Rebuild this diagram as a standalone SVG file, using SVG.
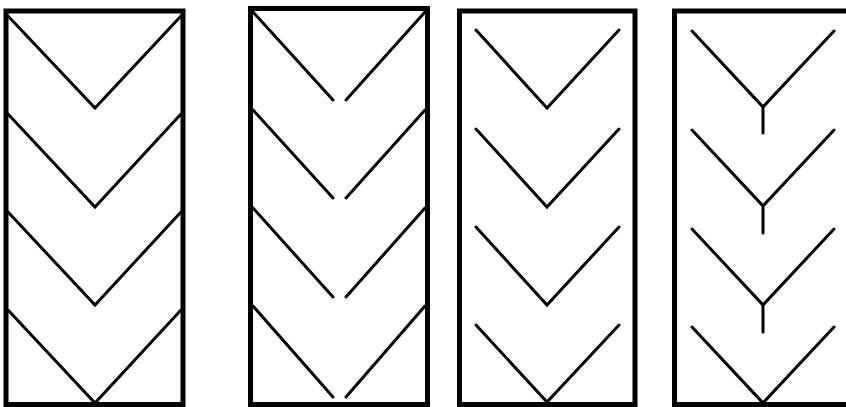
<svg xmlns="http://www.w3.org/2000/svg" width="846" height="407" viewBox="0 0 846 407">
<style>
.frame{fill:none;stroke:#000;stroke-width:5}
.ln{fill:none;stroke:#000;stroke-width:3;stroke-linecap:round;stroke-linejoin:miter}
</style>
<rect width="846" height="407" fill="#fff"/>
<g id="panel1">
<rect class="frame" x="6" y="11" width="177" height="393.5"/>
<path class="ln" d="M8 16 L95 108 L181 16"/>
<path class="ln" d="M8 114 L95 207 L181 114"/>
<path class="ln" d="M8 212 L95 305 L181 212"/>
<path class="ln" d="M8 310 L95 403 L181 310"/>
</g>
<g id="panel2">
<rect class="frame" x="250.5" y="8.5" width="177" height="396"/>
<path class="ln" d="M253 12 L333 100 M346 100 L425 12"/>
<path class="ln" d="M253 110 L333 198 M346 198 L425 110"/>
<path class="ln" d="M253 208 L333 297 M346 297 L425 208"/>
<path class="ln" d="M253 306 L333 397 M346 397 L425 306"/>
</g>
<g id="panel3">
<rect class="frame" x="459.5" y="11" width="175.5" height="393.5"/>
<path class="ln" d="M476 30 L547 108 L619 30"/>
<path class="ln" d="M476 129 L547 207 L619 129"/>
<path class="ln" d="M476 227 L547 305 L619 227"/>
<path class="ln" d="M476 325 L547 402 L619 325"/>
</g>
<g id="panel4">
<path class="frame" d="M850 11 L674.5 11 L674.5 404.5 L850 404.5"/>
<path class="ln" d="M692 31 L763 107 L834 31 M763 107 L763 133"/>
<path class="ln" d="M692 130 L763 206 L834 130 M763 206 L763 233"/>
<path class="ln" d="M692 229 L763 305 L834 229 M763 305 L763 332"/>
<path class="ln" d="M692 327 L763 403 L834 327"/>
</g>
<g id="connectors"></g>
</svg>
